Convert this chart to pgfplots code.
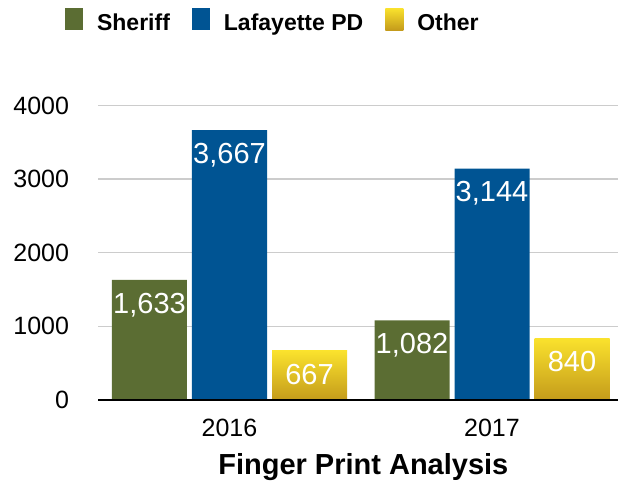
\documentclass[border=0pt]{standalone}
\usepackage{pgfplots}
\pgfplotsset{compat=1.18}
\usepackage{fontspec}
\setmainfont{Liberation Sans}
\definecolor{sheriff}{RGB}{91,109,51}
\definecolor{lpd}{RGB}{0,84,147}
\definecolor{othtop}{RGB}{250,226,45}
\definecolor{othbot}{RGB}{196,155,27}
\definecolor{gridgray}{RGB}{204,204,204}
\begin{document}
\begin{tikzpicture}
\begin{axis}[
  at={(0,0)}, anchor=south west,
  scale only axis, width=519.75bp, height=294.5bp,
  xmin=-0.5, xmax=1.48, ymin=0, ymax=4000,
  xtick={0,1}, xticklabels={2016,2017},
  ytick={0,1000,2000,3000,4000},
  ymajorgrids, grid style={gridgray, line width=1.3bp},
  axis line style={draw=none},
  major tick length=0pt,
  /pgf/number format/assume math mode=true,
  tick label style={font=\fontsize{25bp}{30bp}\selectfont},
  y tick label style={/pgf/number format/1000 sep={}, anchor=east, inner sep=0pt, xshift=-29bp},
  x tick label style={anchor=north, inner sep=0pt, yshift=-19bp},
  xlabel={\bfseries Finger Print Analysis},
  xlabel style={at={(axis description cs:0.51,0)}, anchor=north, inner sep=0pt, yshift=-53bp, font=\fontsize{29bp}{34bp}\selectfont},
  bar width=75bp,
  nodes near coords={\pgfmathprintnumber[1000 sep={,}]{\pgfplotspointmeta}},
  every node near coord/.append style={anchor=north, inner sep=0pt, yshift=-13bp, text=white, font=\fontsize{29bp}{34bp}\selectfont},
  legend columns=3,
  legend style={at={(axis description cs:0.334,1.29)}, anchor=center, draw=none, fill=none,
    font=\fontsize{23bp}{27bp}\selectfont\bfseries,
    /tikz/every odd column/.append style={column sep=14bp},
    /tikz/every even column/.append style={column sep=22bp},
    nodes={inner sep=0pt}},
  legend image code/.code={\path[#1, draw=none] (0bp,-7bp) rectangle (18bp,15bp);},
]
\addplot[ybar, bar shift=-80bp, fill=sheriff, draw=none, forget plot,
  every node near coord/.append style={xshift=-80bp}] coordinates {(0,1633) (1,1082)};
\addplot[ybar, bar shift=0bp, fill=lpd, draw=none, forget plot] coordinates {(0,3667) (1,3144)};
\addplot[ybar, bar shift=80bp, top color=othtop, bottom color=othbot, draw=none, forget plot,
  every node near coord/.append style={xshift=80bp}] coordinates {(0,667)};
\addplot[ybar, bar shift=80bp, top color=othtop, bottom color=othbot, draw=none, forget plot,
  every node near coord/.append style={xshift=80bp}] coordinates {(1,840)};
\draw[black, line width=2.5bp] (rel axis cs:0,0) -- (rel axis cs:1,0);
\addlegendimage{fill=sheriff}\addlegendentry{Sheriff}
\addlegendimage{fill=lpd}\addlegendentry{Lafayette PD}
\addlegendimage{top color=othtop, bottom color=othbot}\addlegendentry{Other}
\end{axis}
\pgfresetboundingbox
\path (-98.25bp,-90bp) rectangle (523.75bp,400bp);
\end{tikzpicture}
\end{document}
